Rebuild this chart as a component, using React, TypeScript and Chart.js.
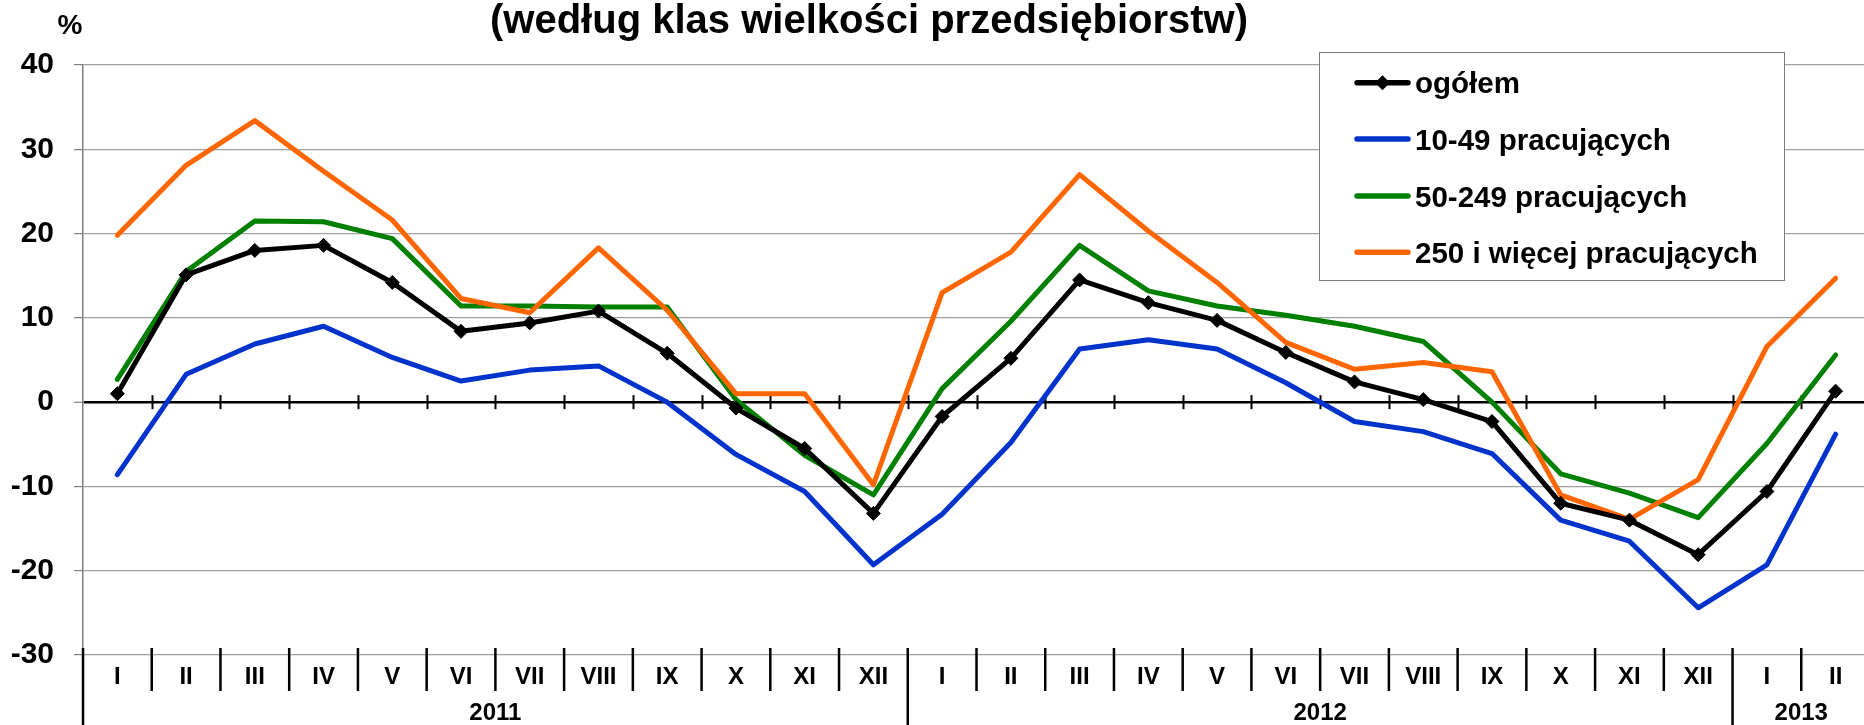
import React, { useEffect, useRef } from "react";
import { Chart, registerables } from "chart.js";

Chart.register(...registerables);

// ---------- data ----------
const months = [
  "I", "II", "III", "IV", "V", "VI", "VII", "VIII", "IX", "X", "XI", "XII",
  "I", "II", "III", "IV", "V", "VI", "VII", "VIII", "IX", "X", "XI", "XII",
  "I", "II",
];
const years = ["2011", "2012", "2013"];
const yearSpans = [12, 12, 2];

const seriesNames = [
  "ogółem",
  "10-49 pracujących",
  "50-249 pracujących",
  "250 i więcej pracujących",
];

const ogolem = [
  1.0, 15.1, 18.0, 18.6, 14.2, 8.4, 9.4, 10.8, 5.8, -0.7, -5.5, -13.2,
  -1.7, 5.2, 14.5, 11.8, 9.7, 5.9, 2.4, 0.3, -2.3, -12.0, -14.0, -18.1,
  -10.6, 1.3,
];
const small10to49 = [
  -8.6, 3.3, 6.9, 9.0, 5.3, 2.5, 3.8, 4.3, 0.0, -6.2, -10.6, -19.3,
  -13.3, -4.8, 6.3, 7.4, 6.3, 2.3, -2.3, -3.5, -6.1, -14.0, -16.5, -24.4,
  -19.3, -3.8,
];
const medium50to249 = [
  2.7, 15.5, 21.5, 21.4, 19.4, 11.4, 11.4, 11.3, 11.3, 0.3, -6.3, -11.0,
  1.6, 9.6, 18.6, 13.2, 11.4, 10.3, 9.0, 7.2, 0.0, -8.5, -10.8, -13.7,
  -4.9, 5.6,
];
const large250plus = [
  19.8, 28.1, 33.4, 27.4, 21.6, 12.3, 10.6, 18.3, 10.9, 1.0, 1.0, -9.8,
  13.0, 17.8, 27.0, 20.3, 14.2, 7.1, 3.9, 4.7, 3.6, -11.0, -13.9, -9.2,
  6.6, 14.7,
];

const yMin = -30;
const yMax = 40;
const yStep = 10;

const titleText = "(według klas wielkości przedsiębiorstw)";
const unitText = "%";

// ---------- styles ----------
const FONT = "'Liberation Sans', Arial, Helvetica, sans-serif";
const colors = ["#000000", "#0033cc", "#008000", "#ff6600"];

const decorPlugin = {
  id: "decor",
  beforeDatasetsDraw(chart: any) {
    const { ctx, scales } = chart;
    const x = scales.x;
    const y = scales.y;
    const n = chart.data.labels.length;
    const y0 = y.getPixelForValue(0);
    ctx.save();
    ctx.strokeStyle = "#000";
    ctx.lineWidth = 2;
    for (let i = 1; i <= n; i++) {
      const px = Math.round(x.getPixelForValue(i - 0.5)) + 0.5;
      ctx.beginPath();
      ctx.moveTo(px, y0 - 7);
      ctx.lineTo(px, y0 + 7);
      ctx.stroke();
    }
    ctx.restore();
  },
  afterDraw(chart: any) {
    const { ctx, scales, chartArea } = chart;
    const x = scales.x;
    const n = chart.data.labels.length;
    const bottom = chartArea.bottom;
    const H = chart.height;

    ctx.save();
    // category separators
    const yearBounds = new Set<number>();
    let acc = 0;
    yearBounds.add(0);
    yearSpans.forEach((s) => {
      acc += s;
      yearBounds.add(acc);
    });
    ctx.strokeStyle = "#000";
    ctx.lineWidth = 2.5;
    for (let i = 0; i <= n; i++) {
      const px = x.getPixelForValue(i - 0.5);
      ctx.beginPath();
      ctx.moveTo(px, bottom - 7);
      ctx.lineTo(px, yearBounds.has(i) ? H : bottom + 36);
      ctx.stroke();
    }

    // month labels
    ctx.fillStyle = "#000";
    ctx.textAlign = "center";
    ctx.textBaseline = "alphabetic";
    ctx.font = `bold 24px ${FONT}`;
    chart.data.labels.forEach((lab: string, i: number) => {
      ctx.fillText(lab, x.getPixelForValue(i), bottom + 29);
    });

    // year labels
    ctx.font = `bold 24px ${FONT}`;
    let start = 0;
    years.forEach((yr, k) => {
      const end = start + yearSpans[k];
      const cx = (x.getPixelForValue(start - 0.5) + x.getPixelForValue(end - 0.5)) / 2;
      ctx.fillText(yr, cx, bottom + 65);
      start = end;
    });

    // title
    ctx.font = `bold 40px ${FONT}`;
    ctx.fillText(titleText, 869, 33);

    // unit
    ctx.font = `bold 28px ${FONT}`;
    ctx.fillText(unitText, 70, 34);

    // legend
    const bx = 1319.5, by = 52.5, bw = 465, bh = 228;
    ctx.fillStyle = "#fff";
    ctx.fillRect(bx, by, bw, bh);
    ctx.strokeStyle = "#7a7a7a";
    ctx.lineWidth = 1;
    ctx.strokeRect(bx, by, bw, bh);
    const rows = [82.7, 139, 196, 252.3];
    ctx.textAlign = "left";
    ctx.font = `bold 29.5px ${FONT}`;
    seriesNames.forEach((name, i) => {
      const ry = rows[i];
      ctx.strokeStyle = colors[i];
      ctx.lineWidth = 5.5;
      ctx.lineCap = "round";
      ctx.beginPath();
      ctx.moveTo(1357, ry);
      ctx.lineTo(1408, ry);
      ctx.stroke();
      if (i === 0) {
        ctx.fillStyle = "#000";
        ctx.beginPath();
        ctx.moveTo(1382.5, ry - 7.5);
        ctx.lineTo(1390, ry);
        ctx.lineTo(1382.5, ry + 7.5);
        ctx.lineTo(1375, ry);
        ctx.closePath();
        ctx.fill();
      }
      ctx.fillStyle = "#000";
      ctx.fillText(name, 1415, ry + 10.5);
    });
    ctx.restore();
  },
};

export default function App() {
  const ref = useRef<HTMLCanvasElement | null>(null);

  useEffect(() => {
    if (!ref.current) return;
    const mk = (i: number, data: number[], order: number, marker: boolean) => ({
      label: seriesNames[i],
      data,
      borderColor: colors[i],
      backgroundColor: colors[i],
      borderWidth: 5,
      tension: 0,
      fill: false,
      order,
      borderJoinStyle: "round" as const,
      borderCapStyle: "round" as const,
      pointStyle: "rectRot" as const,
      pointRadius: marker ? 7 : 0,
      pointBorderWidth: 1,
      pointBackgroundColor: colors[i],
      pointBorderColor: colors[i],
    });
    const chart = new Chart(ref.current, {
      type: "line",
      data: {
        labels: months,
        datasets: [
          mk(0, ogolem, 0, true),
          mk(1, small10to49, 3, false),
          mk(2, medium50to249, 2, false),
          mk(3, large250plus, 1, false),
        ],
      },
      options: {
        responsive: false,
        animation: false,
        devicePixelRatio: 1,
        layout: { padding: { top: 65, right: 10, left: 0, bottom: 0 } },
        plugins: {
          legend: { display: false },
          title: { display: false },
          tooltip: { enabled: false },
        },
        scales: {
          x: {
            type: "category",
            offset: true,
            grid: { display: false },
            border: { display: false },
            ticks: { display: false },
            afterFit: (s: any) => {
              s.height = 70;
            },
          },
          y: {
            min: yMin,
            max: yMax,
            ticks: {
              stepSize: yStep,
              color: "#000",
              padding: 20,
              font: { family: FONT, size: 30, weight: "bold" },
            },
            grid: {
              color: (c: any) => (c.tick && c.tick.value === 0 ? "#000" : "#a0a0a0"),
              lineWidth: (c: any) => (c.tick && c.tick.value === 0 ? 2.5 : 1.2),
              tickLength: 9,
              tickColor: "#808080",
              tickWidth: 1.2,
            },
            border: { color: "#808080", width: 1.5 },
            afterFit: (s: any) => {
              s.width = 83;
            },
          },
        },
      },
      plugins: [decorPlugin],
    });
    return () => chart.destroy();
  }, []);

  return (
    <div
      style={{
        position: "fixed",
        left: 0,
        top: 0,
        width: 1864,
        height: 725,
        overflow: "hidden",
        background: "#fff",
      }}
    >
      <canvas ref={ref} width={1880} height={725} style={{ width: 1880, height: 725 }} />
    </div>
  );
}
